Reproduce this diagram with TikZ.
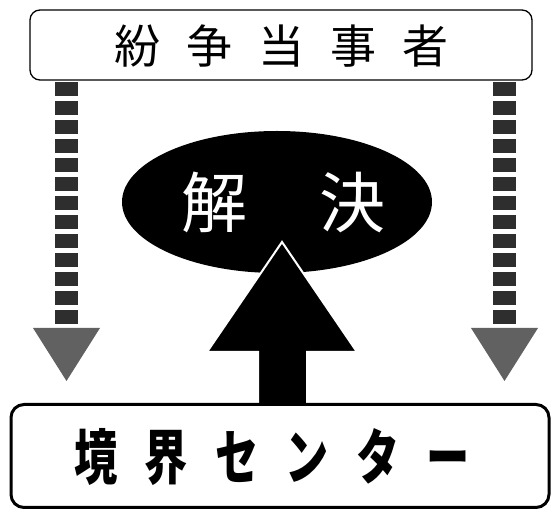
\documentclass[tikz,border=0pt]{standalone}
\usepackage{fontspec}
\newfontfamily\jp{Noto Sans CJK JP}
\newfontfamily\jpb{Noto Sans CJK JP Black}
\usetikzlibrary{shapes.geometric}
\begin{document}
\begin{tikzpicture}[x=1pt,y=-1pt,
  topbox/.style={draw,line width=1.3pt,rounded corners=10pt,minimum width=502pt,minimum height=70pt,inner sep=0pt},
  botbox/.style={draw,line width=3pt,rounded corners=13pt,minimum width=538pt,minimum height=103pt,inner sep=0pt},
  dashline/.style={line width=23pt,draw=black!82,dash pattern=on 14pt off 5pt},
  headfill/.style={fill=black!62},
  solution/.style={ellipse,fill=black,minimum width=310pt,minimum height=142pt,inner sep=0pt}]
\useasboundingbox (0,0) rectangle (552,510);
\node[topbox] (top) at (281,45) {};
\node at (281.5,46) (toptext) {\jp\fontsize{46pt}{46pt}\selectfont 紛\hspace{26pt}争\hspace{26pt}当\hspace{26pt}事\hspace{26pt}者};
\node[solution] (sol) at (277,202) {};
\node at (283.5,202) (soltext) {\color{white}\jp\fontsize{66pt}{66pt}\selectfont 解\hspace{72pt}決};
% dashed arrows
\coordinate (lh) at (66.5,327);
\coordinate (rh) at (504,327);
\draw[dashline] (top.south -| lh) ++(0,1.5) -- (lh);
\draw[dashline] (top.south -| rh) ++(0,1.5) -- (rh);
\fill[headfill] (33,328) -- (100,328) -- (66.5,381) -- cycle;
\fill[headfill] (471,328) -- (538,328) -- (504.5,381) -- cycle;
% big arrow
\coordinate (tip) at (282,242);
\filldraw[fill=black,draw=white,line width=2pt] (tip) -- (357,352) -- (307,352) -- (307,405) -- (258,405) -- (258,352) -- (207,352) -- cycle;
\node[botbox] (bot) at (280,456) {};
\node at (272,457) (bottext) {\scalebox{0.72}[1]{\jpb\fontsize{60pt}{60pt}\selectfont 境\hspace{38pt}界\hspace{38pt}セ\hspace{38pt}ン\hspace{38pt}タ\hspace{38pt}ー}};
\end{tikzpicture}
\end{document}
